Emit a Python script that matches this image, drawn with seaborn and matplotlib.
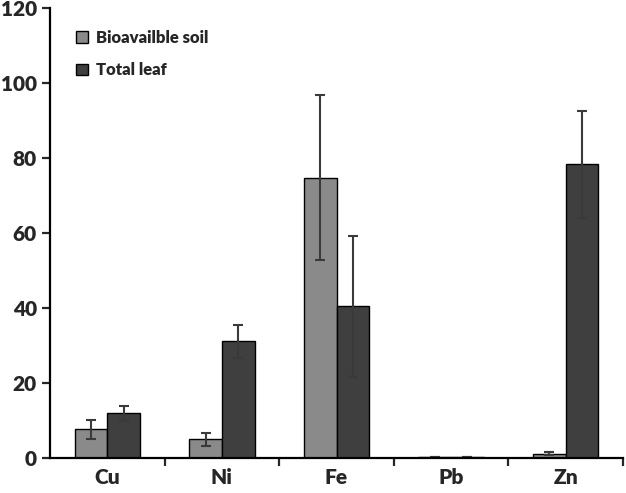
import pandas as pd
import matplotlib.pyplot as plt
import seaborn as sns

METALS = ["Cu", "Ni", "Fe", "Pb", "Zn"]
SOIL = [7.7, 5.0, 74.8, 0.3, 1.1]
SOIL_ERR = [2.5, 1.7, 22.0, 0.1, 0.4]
LEAF = [12.0, 31.2, 40.5, 0.3, 78.3]
LEAF_ERR = [2.0, 4.4, 18.8, 0.1, 14.2]
SERIES = ["Bioavailble soil", "Total leaf"]

df = pd.DataFrame({
    "metal": METALS * 2,
    "series": [SERIES[0]] * 5 + [SERIES[1]] * 5,
    "value": SOIL + LEAF,
    "err": SOIL_ERR + LEAF_ERR,
})

sns.set_style("white")
plt.rcParams["font.family"] = ["Lato", "DejaVu Sans"]
plt.rcParams["font.weight"] = "heavy"

fig = plt.figure(figsize=(6.26, 4.93), dpi=100)
ax = fig.add_axes([50 / 626, 35 / 493, 573 / 626, 450 / 493])

sns.barplot(data=df, x="metal", y="value", hue="series", order=METALS,
            hue_order=SERIES, palette=["#8a8a8a", "#3f3f3f"], width=0.57,
            errorbar=None, edgecolor="black", linewidth=1.0, ax=ax)

# error bars on each bar, same order as the patches (series by series)
bars = [p for p in ax.patches if p.get_height() > 0][:len(df)]
for p, e in zip(bars, df["err"]):
    x = p.get_x() + p.get_width() / 2
    ax.errorbar(x, p.get_height(), yerr=e, fmt="none", ecolor="#3a3a3a",
                elinewidth=1.5, capsize=3.5, capthick=1.5)

ax.set_xlim(-0.5, 4.5)
ax.set_ylim(0, 120)
ax.set_yticks(range(0, 121, 20))
ax.set_xlabel("")
ax.set_ylabel("")
sns.despine(ax=ax)
for sp in ["left", "bottom"]:
    ax.spines[sp].set_linewidth(1.6)
    ax.spines[sp].set_color("black")

ax.set_xticks([0.5, 1.5, 2.5, 3.5, 4.5], minor=True)
ax.tick_params(axis="x", which="major", length=0, pad=7, labelsize=15)
ax.tick_params(axis="x", which="minor", length=6, width=1.6, direction="out", bottom=True)
ax.tick_params(axis="y", length=6, width=1.6, direction="out", left=True, labelsize=15)
for lab in ax.get_xticklabels() + ax.get_yticklabels():
    lab.set_fontweight("heavy")

leg = ax.legend(loc="upper left", bbox_to_anchor=(0.02, 0.985), frameon=False,
                handlelength=0.7, handleheight=0.7, labelspacing=1.0,
                handletextpad=0.5, prop={"weight": "heavy", "size": 12})

fig.savefig("out.png", dpi=100)
